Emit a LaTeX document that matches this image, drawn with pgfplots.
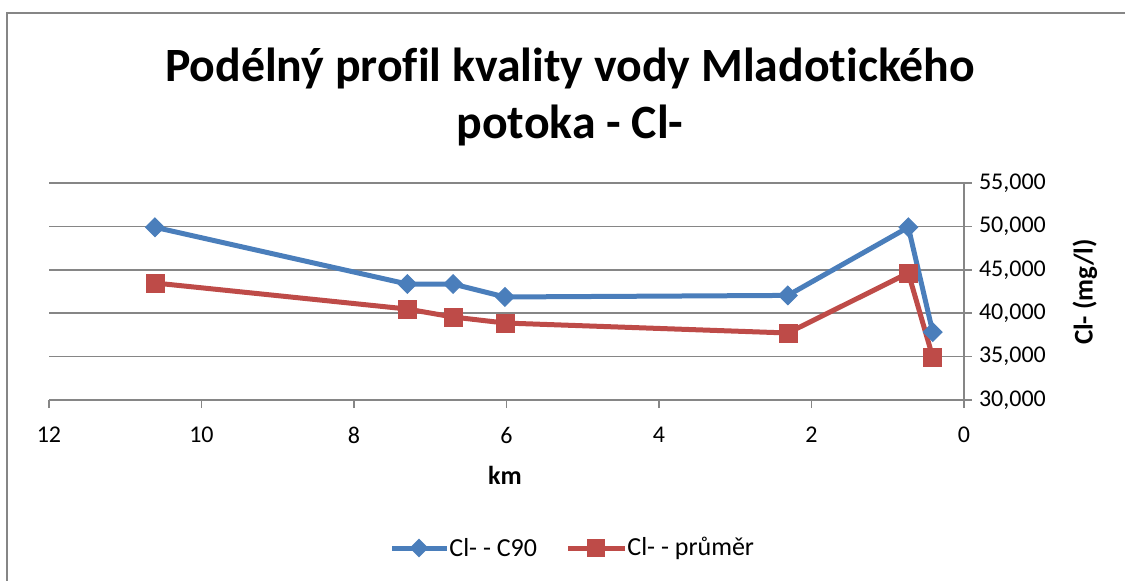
\documentclass[border=0pt]{standalone}
\usepackage{pgfplots}
\pgfplotsset{compat=1.18}
\usepackage{fontspec}
\setmainfont{Carlito}[RawFeature={-liga;-clig;-dlig;-calt;-rlig}]
\definecolor{cblue}{HTML}{4A7EBB}
\definecolor{cred}{HTML}{BE4B48}
\definecolor{cgrid}{HTML}{868686}
\begin{document}
\begin{tikzpicture}
\path[use as bounding box] (-24.5pt,-90pt) rectangle (538pt,200pt);
\draw[cgrid, line width=0.8pt] (-21pt,193.5pt) rectangle (545pt,-100pt);
\begin{axis}[
  at={(0pt,0pt)}, anchor=south west,
  scale only axis, width=457.5pt, height=108.5pt,
  x dir=reverse,
  xmin=0, xmax=12, ymin=30, ymax=55,
  xtick={0,2,...,12}, ytick={30,35,...,55},
  axis y line*=right, axis x line*=bottom,
  axis line style={cgrid, line width=0.8pt},
  ymajorgrids, grid style={cgrid, line width=0.8pt},
  tick style={cgrid, line width=0.8pt},
  major tick length=4pt,
  xtick align=outside, ytick align=outside,
  tick label style={font=\fontsize{12}{14}\selectfont, text=black},
  /pgf/number format/assume math mode=true,
  yticklabel style={/pgf/number format/.cd, fixed, fixed zerofill, precision=3, use comma, 1000 sep={}},
  xticklabel style={yshift=-6pt, /pgf/number format/.cd, fixed, precision=0},
  scaled y ticks=false,
  clip=false,
]
\addplot[cblue, line width=2.5pt, mark=square*, mark size=3.3pt, mark options={rotate=45, solid, fill=cblue, line width=0.5pt}]
coordinates {(10.61,49.9) (7.30,43.36) (6.70,43.36) (6.02,41.87) (2.31,42.05) (0.73,49.9) (0.41,37.83)};
\addplot[cred, line width=2.5pt, mark=square*, mark size=4.5pt, mark options={solid, fill=cred, line width=0.3pt}]
coordinates {(10.61,43.48) (7.30,40.48) (6.70,39.56) (6.02,38.87) (2.31,37.72) (0.73,44.63) (0.41,34.95)};
\end{axis}
\node[font=\fontsize{23.9}{28.5}\selectfont\bfseries, align=center] at (260.5pt,151.5pt) {Podélný profil kvality vody Mladotického\\potoka - Cl-};
\node[font=\fontsize{13}{15}\selectfont\bfseries] at (228pt,-37.5pt) {km};
\node[font=\fontsize{13.5}{15}\selectfont\bfseries, rotate=90] at (518pt,54pt) {Cl- (mg/l)};
% legend
\begin{scope}[shift={(263pt,-74pt)}]
\draw[cblue, line width=2.5pt] (-91.5pt,0) -- (-64pt,0);
\path[fill=cblue, rotate around={45:(-78pt,0)}] (-81.3pt,-3.3pt) rectangle (-74.7pt,3.3pt);
\node[anchor=west, font=\fontsize{13}{15}\selectfont, inner sep=0pt] at (-63pt,0) {Cl- - C90};
\draw[cred, line width=2.5pt] (-3.5pt,0) -- (25pt,0);
\path[fill=cred] (6pt,-4.5pt) rectangle (15pt,4.5pt);
\node[anchor=west, font=\fontsize{13}{15}\selectfont, inner sep=0pt] at (26pt,0) {Cl- - průměr};
\end{scope}
\end{tikzpicture}
\end{document}
